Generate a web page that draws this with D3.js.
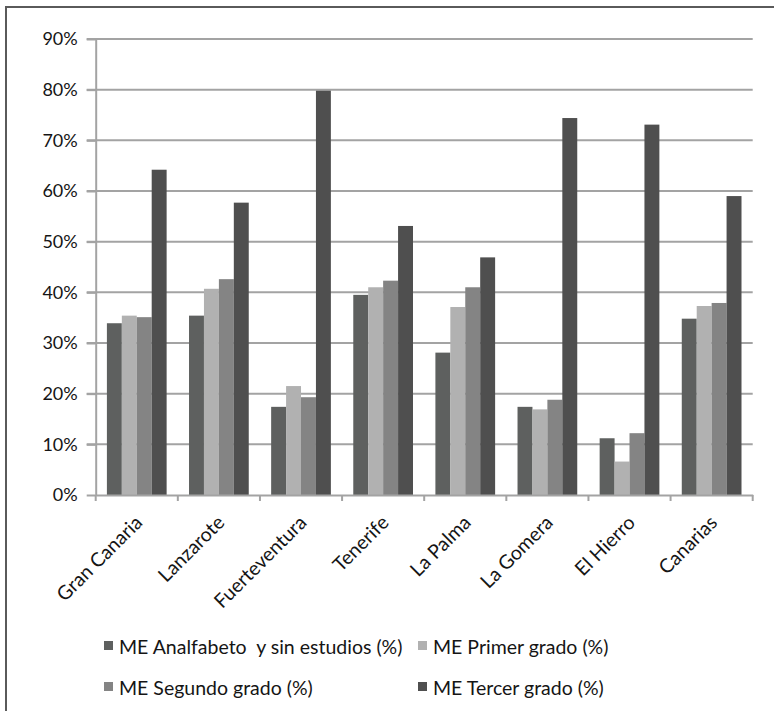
<!DOCTYPE html>
<html>
<head>
<meta charset="utf-8">
<script src="https://cdnjs.cloudflare.com/ajax/libs/d3/7.8.5/d3.min.js"></script>
<style>
  body { margin: 0; background: #fff; }
  text { font-family: Lato, "Open Sans", sans-serif; }
</style>
</head>
<body>
<main></main>
<script>
// islands + totals
let islands = ["Gran Canaria", "Lanzarote", "Fuerteventura", "Tenerife", "La Palma", "La Gomera", "El Hierro", "Canarias"]
let seriesNames = ["ME Analfabeto  y sin estudios (%)", "ME Primer grado (%)", "ME Segundo grado (%)", "ME Tercer grado (%)"]
let analfabeto = [33.9, 35.4, 17.4, 39.5, 28.1, 17.4, 11.2, 34.8]
let primer = [35.4, 40.7, 21.5, 41.0, 37.1, 16.9, 6.6, 37.3]
let segundo = [35.1, 42.6, 19.3, 42.3, 41.0, 18.8, 12.2, 37.9]
let tercer = [64.2, 57.7, 79.8, 53.1, 46.9, 74.4, 73.1, 59.0]
let yTicks = [0, 10, 20, 30, 40, 50, 60, 70, 80, 90]

let colors = ["#5e605f", "#b1b1b1", "#848484", "#4f4f4f"]
let allSeries = [analfabeto, primer, segundo, tercer]

let W = 774, H = 711
let plotLeft = 95.7, plotRight = 752.7, plotTop = 39, plotBottom = 495

let svg = d3.select('main')
    .append('svg')
    .attr('width', W)
    .attr('height', H)

// frame (picture is cropped, only top & left edges visible)
svg.append('path')
    .attr('d', `M6,711 V7 H774`)
    .attr('fill', 'none')
    .attr('stroke', '#5a5a5a')
    .attr('stroke-width', 2)

let x = d3.scaleBand().domain(islands).range([plotLeft, plotRight]).padding(0)
let xs = d3.scaleBand().domain(d3.range(4)).range([0, x.bandwidth()])
    .paddingInner(0).paddingOuter(0.75)
let y = d3.scaleLinear().domain([0, 90]).range([plotBottom, plotTop])

// gridlines
svg.append('g')
    .selectAll('line')
    .data(yTicks.filter(d => d > 0))
    .join('line')
    .attr('x1', plotLeft - 9)
    .attr('x2', plotRight)
    .attr('y1', d => y(d))
    .attr('y2', d => y(d))
    .attr('stroke', '#a3a3a3')
    .attr('stroke-width', 2)

// y axis
let yAxis = svg.append('g')
    .attr('transform', `translate(${plotLeft},0)`)
    .call(d3.axisLeft(y).tickValues(yTicks).tickFormat(d => d + '%').tickSize(9).tickSizeOuter(0))
yAxis.select('.domain').attr('stroke', '#a3a3a3').attr('stroke-width', 2)
yAxis.selectAll('.tick line').attr('stroke', '#a3a3a3').attr('stroke-width', 2)
yAxis.selectAll('.tick text')
    .attr('x', -18)
    .style('font-size', '18px')
    .style('font-family', 'Lato, sans-serif')
    .attr('fill', '#151515')

// bars
islands.forEach((isl, i) => {
    allSeries.forEach((vals, s) => {
        svg.append('rect')
            .attr('x', x(isl) + xs(s))
            .attr('y', y(vals[i]))
            .attr('width', xs.bandwidth())
            .attr('height', y(0) - y(vals[i]))
            .attr('fill', colors[s])
    })
})

// x axis
let xAxis = svg.append('g')
    .attr('transform', `translate(0,${plotBottom})`)
    .call(d3.axisBottom(x).tickSize(0).tickSizeOuter(0))
xAxis.select('.domain').attr('stroke', '#a3a3a3').attr('stroke-width', 2)
xAxis.selectAll('.tick text')
    .attr('text-anchor', 'end')
    .attr('transform', 'translate(2,24) rotate(-45)')
    .attr('dy', '0.35em')
    .attr('y', 0)
    .style('font-size', '19.5px')
    .style('font-family', 'Lato, sans-serif')
    .attr('fill', '#151515')

// tick marks at category boundaries
let bounds = islands.map(d => x(d)).concat([plotRight])
svg.append('g')
    .selectAll('line')
    .data(bounds)
    .join('line')
    .attr('x1', d => d)
    .attr('x2', d => d)
    .attr('y1', plotBottom)
    .attr('y2', plotBottom + 6)
    .attr('stroke', '#a3a3a3')
    .attr('stroke-width', 2)

// legend
let legendPos = [[104, 647], [418, 647], [104, 688], [418, 688]]
let legend = svg.append('g')
seriesNames.forEach((name, s) => {
    let [lx, ly] = legendPos[s]
    legend.append('rect')
        .attr('x', lx)
        .attr('y', ly - 6)
        .attr('width', 9)
        .attr('height', 9)
        .attr('fill', colors[s])
    legend.append('text')
        .attr('x', lx + 15)
        .attr('y', ly)
        .attr('dy', '0.35em')
        .style('font-size', '19.5px')
        .attr('fill', '#151515')
        .style('white-space', 'pre')
        .text(name)
})
</script>
</body>
</html>
